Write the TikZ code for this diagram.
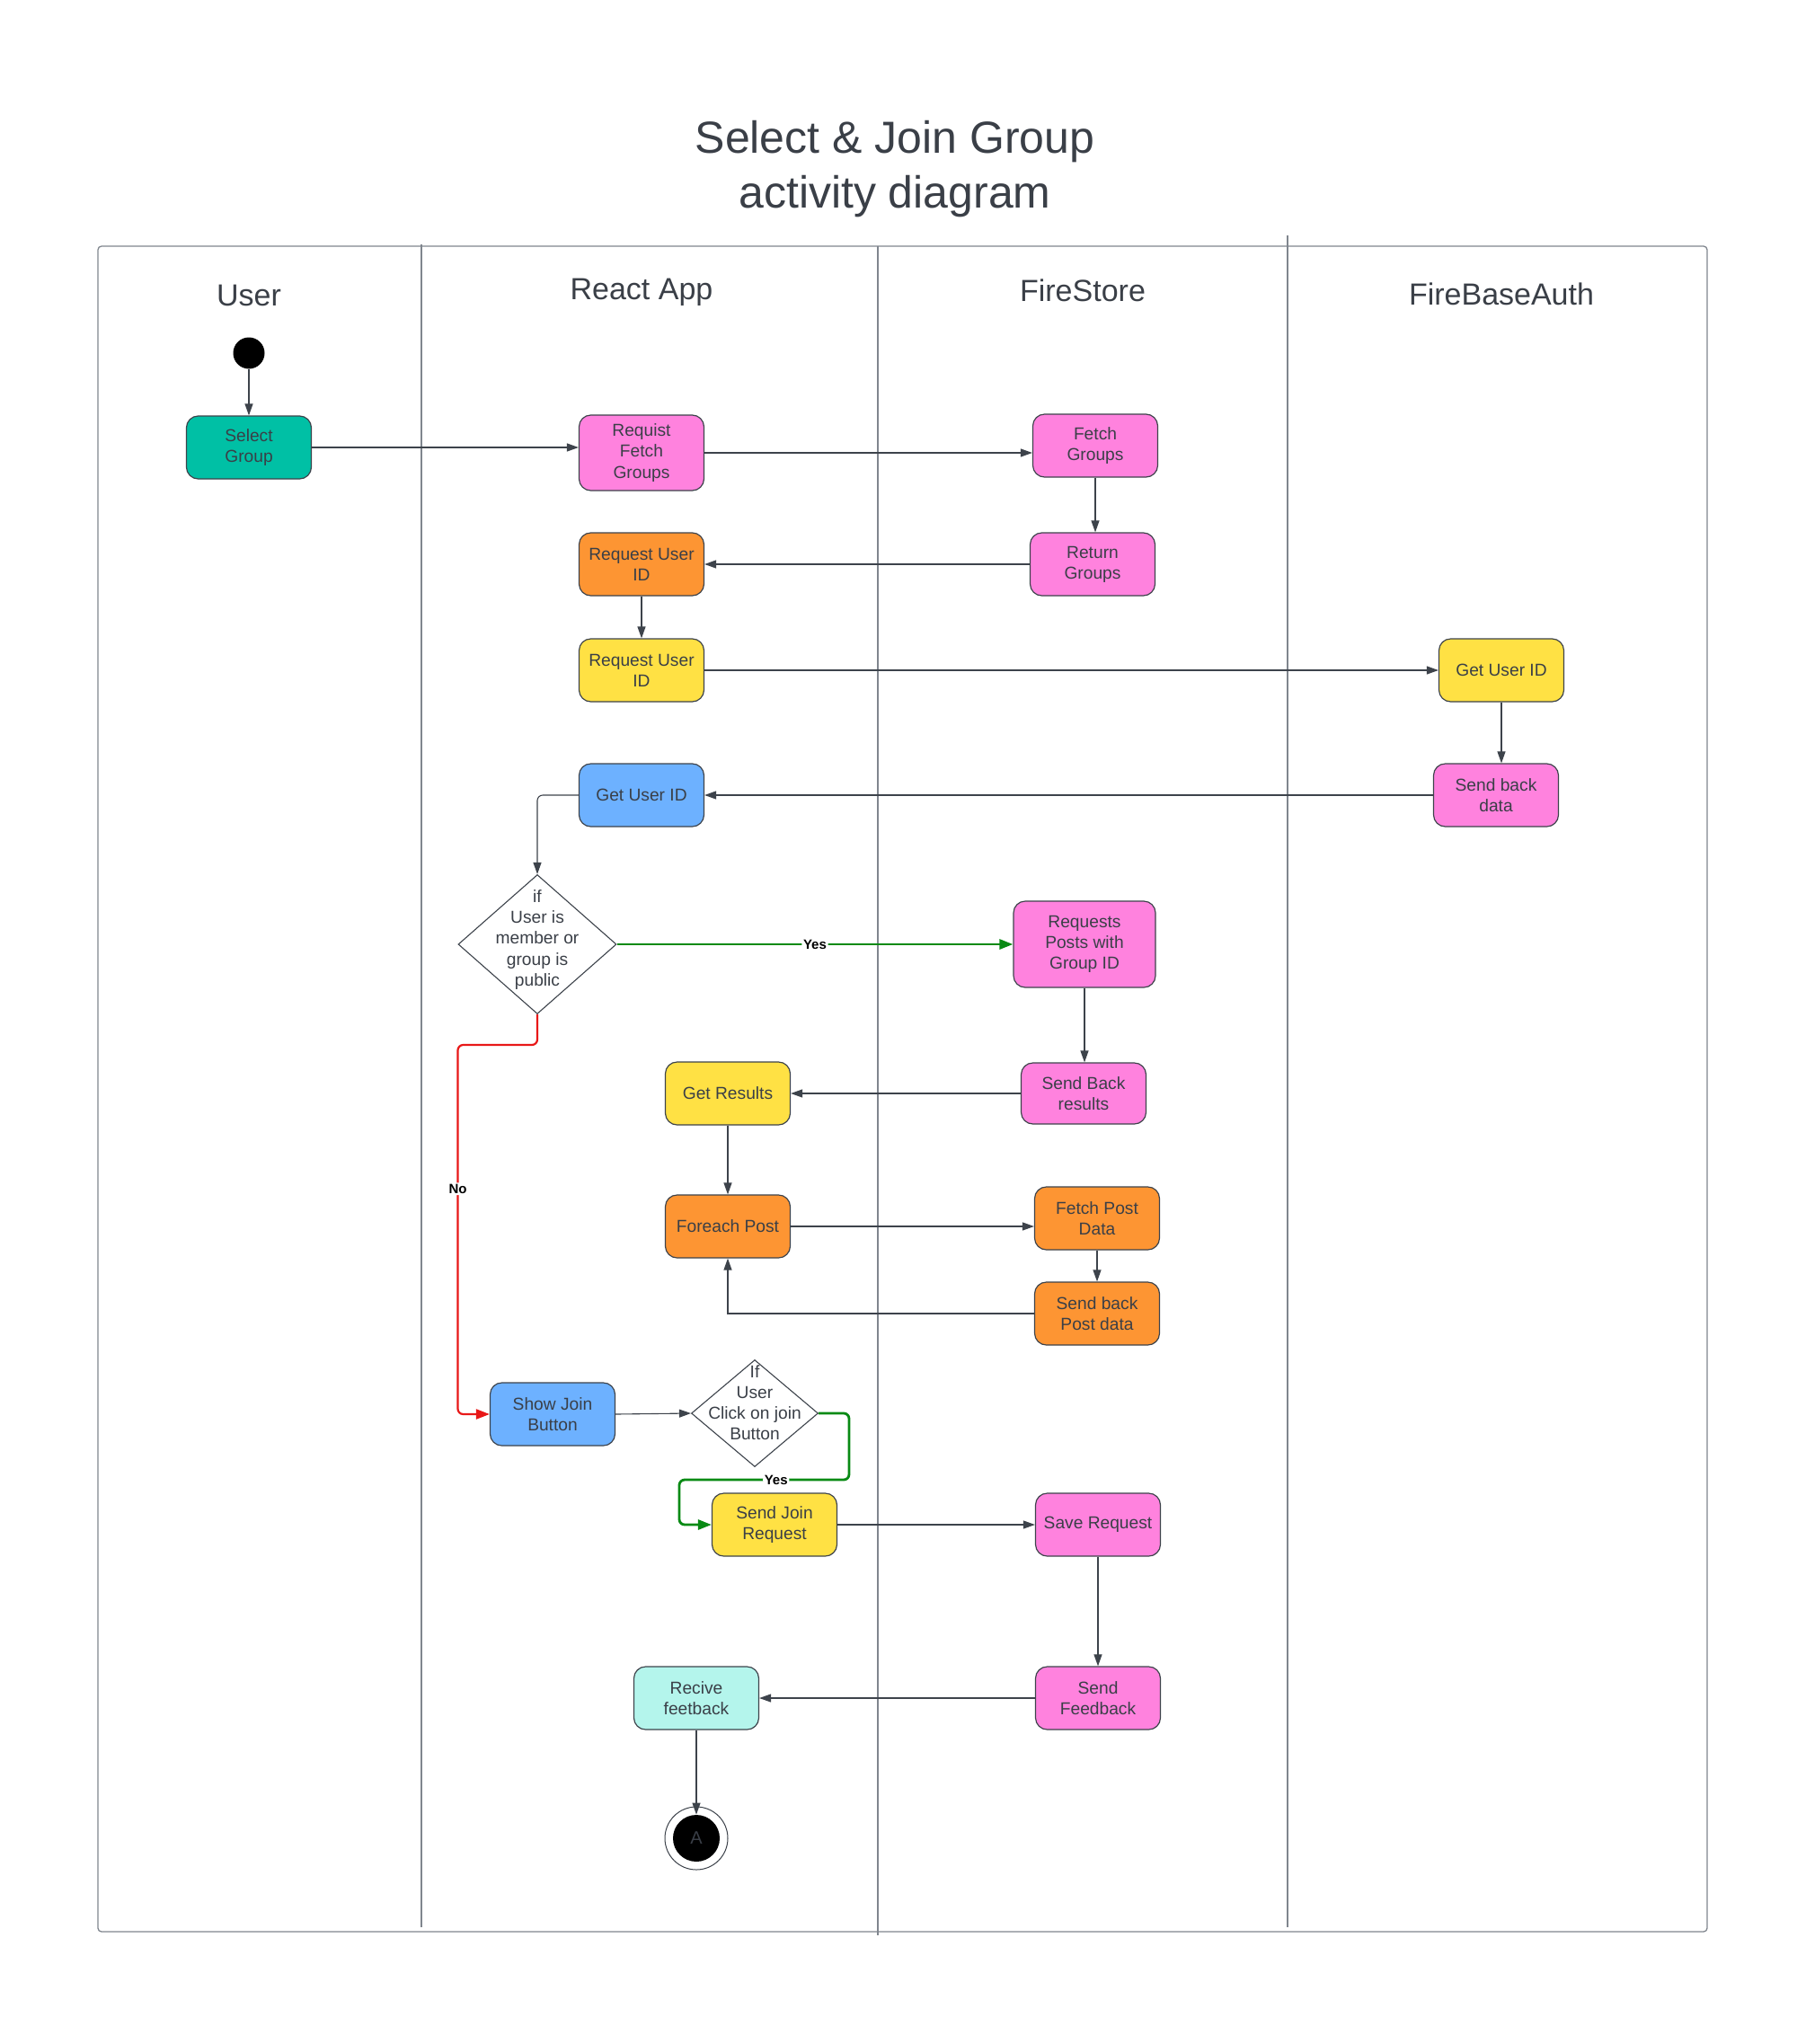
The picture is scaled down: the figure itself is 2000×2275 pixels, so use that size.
\documentclass[tikz,border=0pt]{standalone}
\usepackage{fontspec}
\setmainfont{Liberation Sans}
\usetikzlibrary{shapes.geometric,arrows.meta,calc}
\definecolor{txt}{HTML}{3A3F47}
\definecolor{ln}{HTML}{3D434B}
\definecolor{frm}{HTML}{80868E}
\definecolor{cteal}{HTML}{00C0A5}
\definecolor{cpink}{HTML}{FF82DE}
\definecolor{corange}{HTML}{FD9533}
\definecolor{cyellow}{HTML}{FFE144}
\definecolor{cblue}{HTML}{6DB1FF}
\definecolor{ccyan}{HTML}{B4F5EC}
\definecolor{cgreen}{HTML}{088A14}
\definecolor{cred}{HTML}{E81818}
\begin{document}
\begin{tikzpicture}[x=0.5pt,y=-0.5pt,
  box/.style={draw=ln, line width=0.6pt, rounded corners=6.5pt, minimum width=69.5pt, minimum height=35pt, align=center, font=\fontsize{9.6}{11.6}\selectfont, text=txt, inner sep=1pt},
  dec/.style={diamond, draw=ln, line width=0.55pt, fill=white, inner sep=0pt},
  dtext/.style={align=center, font=\fontsize{9.6}{11.6}\selectfont, text=txt, inner sep=0pt},
  arr/.style={draw=ln, line width=0.55pt, -{Triangle[length=6.5pt,width=4.5pt]}},
  garr/.style={draw=cgreen, line width=1.4pt, rounded corners=3pt, -{Triangle[length=7.5pt,width=5.5pt]}},
  rarr/.style={draw=cred, line width=1.1pt, rounded corners=3pt, -{Triangle[length=7.5pt,width=5.5pt]}},
  lbl/.style={fill=white, inner sep=0.8pt, font=\fontsize{7.5}{8.5}\selectfont\bfseries, text=black},
  lane/.style={font=\fontsize{17}{20}\selectfont, text=txt},
  divider/.style={draw=frm, line width=0.55pt}
]
\useasboundingbox (0,0) rectangle (2000,2275);
% title
\node[font=\fontsize{25}{30.5}\selectfont, text=txt, align=center] (title) at (996,188) {Select \& Join Group\\activity diagram};
% frame and lanes
\draw[draw=frm, line width=0.65pt, rounded corners=2pt] (109,274) rectangle (1900,2150);
\draw[divider] (469,272) -- (469,2145);
\draw[divider] (977,274) -- (977,2154);
\draw[divider] (1433,262) -- (1433,2145);
\node[lane] (hUser) at (277,329) {User};
\node[lane] (hReact) at (714,325) {React App};
\node[lane] (hStore) at (1205,323) {FireStore};
\node[lane] (hAuth) at (1671,327) {FireBaseAuth};
% nodes
\node[circle, fill=black, minimum size=17.5pt, inner sep=0pt] (start) at (277,393) {};
\node[box, fill=cteal] (sel) at (277,498) {Select\\Group};
\node[box, fill=cpink, minimum height=42pt] (req) at (714,504) {Requist\\Fetch\\Groups};
\node[box, fill=cpink] (fg) at (1219,496) {Fetch\\Groups};
\node[box, fill=cpink] (rg) at (1216,628) {Return\\Groups};
\node[box, fill=corange] (ruo) at (714,628) {Request User\\ID};
\node[box, fill=cyellow] (ruy) at (714,746) {Request User\\ID};
\node[box, fill=cyellow] (gua) at (1671,746) {Get User ID};
\node[box, fill=cpink] (sbd) at (1665,885) {Send back\\data};
\node[box, fill=cblue] (gub) at (714,885) {Get User ID};
\node[dec, minimum width=88pt, minimum height=77.5pt] (d1) at (598,1051) {};
\node[dtext] (d1t) at (598,1046) {if\\User is\\member or\\group is\\public};
\node[box, fill=cpink, minimum width=79pt, minimum height=48pt] (rpg) at (1207,1051) {Requests\\Posts with\\Group ID};
\node[box, fill=cpink, minimum height=34pt] (sbr) at (1206,1217) {Send Back\\results};
\node[box, fill=cyellow] (gr) at (810,1217) {Get Results};
\node[box, fill=corange] (fe) at (810,1365) {Foreach Post};
\node[box, fill=corange] (fpd) at (1221,1356) {Fetch Post\\Data};
\node[box, fill=corange] (sbpd) at (1221,1462) {Send back\\Post data};
\node[box, fill=cblue] (sjb) at (615,1574) {Show Join\\Button};
\node[dec, minimum width=70.5pt, minimum height=59.5pt] (d2) at (840,1573) {};
\node[dtext] (d2t) at (840,1561) {If\\User\\Click on join\\Button};
\node[box, fill=cyellow] (sjr) at (862,1697) {Send Join\\Request};
\node[box, fill=cpink] (sr) at (1222,1697) {Save Request};
\node[box, fill=cpink] (sf) at (1222,1890) {Send\\Feedback};
\node[box, fill=ccyan] (rf) at (775,1890) {Recive\\feetback};
\node[circle, draw=ln, line width=0.5pt, fill=white, minimum size=35pt, inner sep=0pt] (endo) at (775,2046) {};
\node[circle, fill=black, minimum size=26pt, inner sep=0pt, text=txt, font=\fontsize{10}{12}\selectfont] (endi) at (775,2046) {A};
% connectors
\draw[arr] (start) -- (sel);
\draw[arr] (sel.east) -- (sel.east -| req.west);
\draw[arr] (req.east) -- (req.east -| fg.west);
\draw[arr] (fg.south) -- (fg.south |- rg.north);
\draw[arr] (rg.west) -- (rg.west -| ruo.east);
\draw[arr] (ruo) -- (ruy);
\draw[arr] (ruy.east) -- (ruy.east -| gua.west);
\draw[arr] (gua.south) -- (gua.south |- sbd.north);
\draw[arr] (sbd.west) -- (sbd.west -| gub.east);
\draw[arr, rounded corners=3pt] (gub.west) -| (d1.north);
\draw[garr] (d1.east) -- node[lbl, pos=0.5]{Yes} (rpg.west);
\draw[rarr] (d1.south) -- (598,1163) -- (509.5,1163) -- node[lbl, pos=0.39]{No} (509.5,1574) -- (sjb.west);
\draw[arr] (rpg.south) -- (rpg.south |- sbr.north);
\draw[arr] (sbr.west) -- (sbr.west -| gr.east);
\draw[arr] (gr) -- (fe);
\draw[arr] (fe.east) -- (fe.east -| fpd.west);
\draw[arr] (fpd) -- (sbpd);
\draw[arr] (sbpd.west) -| (fe.south);
\draw[arr] (sjb.east) -- (d2.west);
\draw[garr] (d2.east) -| (945,1647) -- node[lbl, pos=0.43]{Yes} (756,1647) |- (sjr.west);
\draw[arr] (sjr.east) -- (sjr.east -| sr.west);
\draw[arr] (sr) -- (sf);
\draw[arr] (sf.west) -- (sf.west -| rf.east);
\draw[arr] (rf.south) -- (endi.north);
\end{tikzpicture}
\end{document}
